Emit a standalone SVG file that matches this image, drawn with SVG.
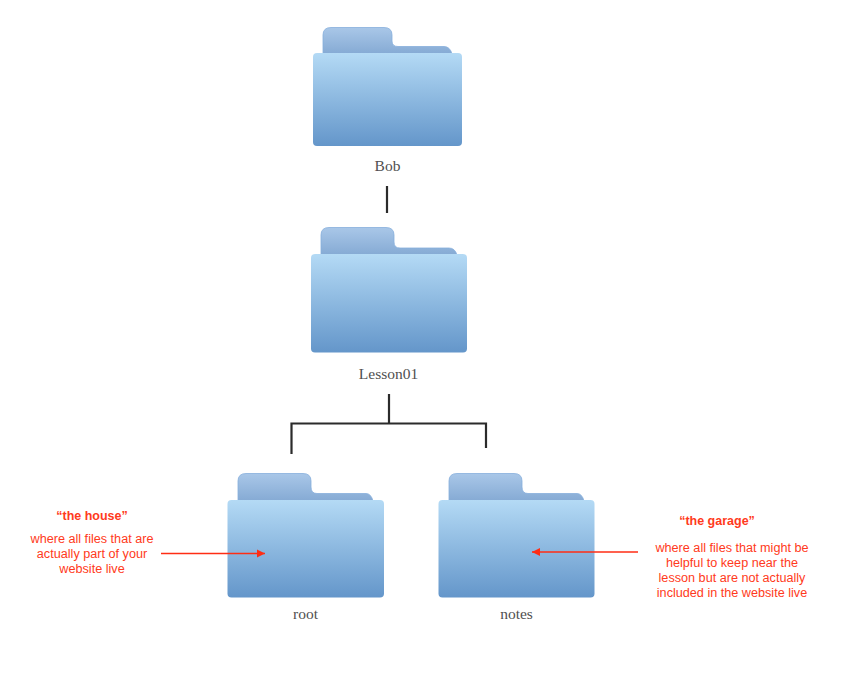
<svg xmlns="http://www.w3.org/2000/svg" width="844" height="679" viewBox="0 0 844 679">
<style>
.back{fill:url(#backGrad);stroke:#86afdc;stroke-width:.8}
.front{fill:url(#frontGrad)}
.name{font-family:"Liberation Serif",serif;font-size:15.5px;fill:#505050;text-anchor:middle}
.note{font-family:"Liberation Sans",Arial,sans-serif;font-size:12.65px;fill:#ff3a20;text-anchor:middle}
.head{font-weight:bold;font-size:12.5px}
.conn{fill:none;stroke:#2b2b2b;stroke-width:2.2}
.arrow{fill:none;stroke:#ff2d14;stroke-width:1.7;marker-end:url(#arr)}
</style>
<defs>
<linearGradient id="backGrad" x1="0" y1="0" x2="0" y2="1"><stop offset="0" stop-color="#a9c7e8"/><stop offset="1" stop-color="#85aad4"/></linearGradient>
<linearGradient id="frontGrad" x1="0" y1="0" x2="0" y2="1"><stop offset="0" stop-color="#b4daf5"/><stop offset="1" stop-color="#6496ca"/></linearGradient>
<marker id="arr" markerUnits="userSpaceOnUse" markerWidth="10" markerHeight="10" refX="8" refY="4.500" orient="auto"><path d="M0 .5L8 4.500L0 8.500Z" fill="#ff2d14"/></marker>
</defs>
<g id="node-bob">
<path class="back" d="M323 54V35Q323 27.500 331 27.500H384Q392 27.500 392 35V41Q392 46.500 398 46.500H444Q450 46.500 452 54Z"/>
<rect class="front" x="313" y="53" width="149" height="93" rx="4"/>
<text class="name" x="387.500" y="171">Bob</text>
</g>
<g id="node-lesson01">
<path class="back" d="M321 255V235Q321 227.500 329 227.500H386Q394 227.500 394 235V242Q394 248 400 248H449Q455 248 457 255Z"/>
<rect class="front" x="311" y="254" width="156" height="98.500" rx="4"/>
<text class="name" x="388.500" y="379">Lesson01</text>
</g>
<g id="node-root">
<path class="back" d="M238 501V481Q238 473.500 246 473.500H303Q311 473.500 311 481V487Q311 493.500 317 493.500H366Q371 493.500 373 501Z"/>
<rect class="front" x="227.500" y="500" width="156.500" height="97.500" rx="4"/>
<text class="name" x="305.500" y="619">root</text>
</g>
<g id="node-notes">
<path class="back" d="M449 501V481Q449 473.500 457 473.500H514Q522 473.500 522 481V487Q522 493.500 528 493.500H577Q582 493.500 584 501Z"/>
<rect class="front" x="438.500" y="500" width="156" height="97.500" rx="4"/>
<text class="name" x="516.500" y="619">notes</text>
</g>
<g id="note-house">
<text class="note head" x="92" y="520">“the house”</text>
<text class="note" x="92" y="543">where all files that are</text>
<text class="note" x="92" y="558">actually part of your</text>
<text class="note" x="92" y="573">website live</text>
</g>
<g id="note-garage">
<text class="note head" x="717" y="525">“the garage”</text>
<text class="note" x="732" y="552">where all files that might be</text>
<text class="note" x="732" y="567">helpful to keep near the</text>
<text class="note" x="732" y="582">lesson but are not actually</text>
<text class="note" x="732" y="597">included in the website live</text>
</g>
<g id="connectors">
<path class="conn" d="M387 186V213"/>
<path class="conn" d="M389 394V423"/>
<path class="conn" d="M291.500 454V423.500H486V448"/>
<path class="arrow" d="M161 553.500H265"/>
<path class="arrow" d="M638 552H532"/>
</g>
</svg>
